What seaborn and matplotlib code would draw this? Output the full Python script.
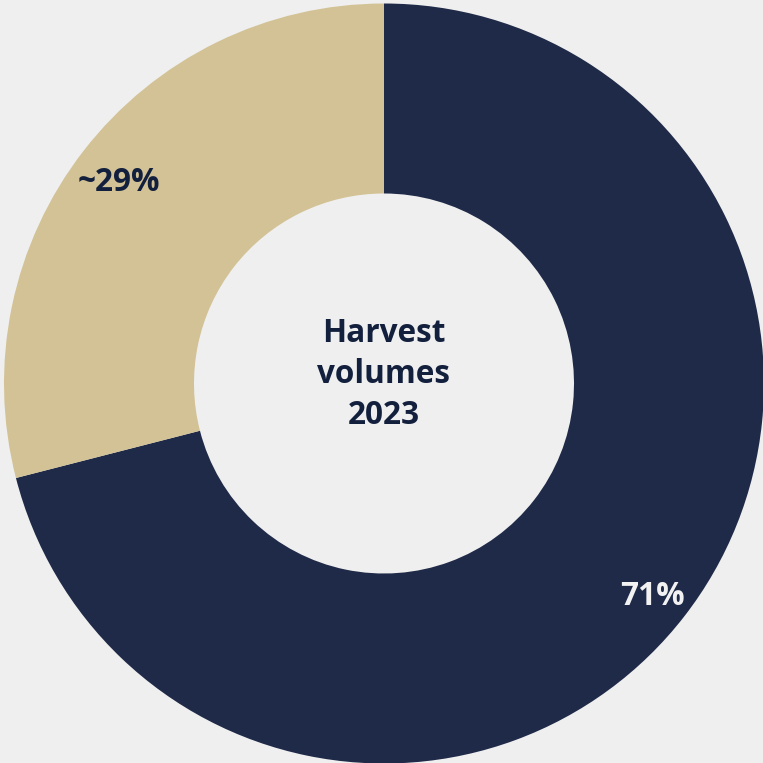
import matplotlib
matplotlib.use("Agg")
import matplotlib.pyplot as plt
import seaborn as sns
import numpy as np

# Harvest volume shares for 2023
categories = ["Main harvest", "Other"]
shares = [71, 29]
labels = ["71%", "~29%"]
colors = ["#1f2a48", "#d2c295"]
label_colors = ["#f2f2f2", "#13203d"]

sns.set_style("white")
plt.rcParams["font.family"] = ["Open Sans", "DejaVu Sans"]

bg = "#efefef"
fig = plt.figure(figsize=(7.63, 7.63), dpi=100, facecolor=bg)
ax = fig.add_axes([0, 0, 1, 1])
ax.set_facecolor(bg)

wedges, _ = ax.pie(
    shares,
    colors=colors,
    startangle=90,
    counterclock=False,
    radius=1.0,
    wedgeprops=dict(width=0.5, edgecolor="none", linewidth=0),
)

# value labels sit on each ring segment's middle angle
px = 1 / 380
for w, lab, col in zip(wedges, labels, label_colors):
    mid = np.deg2rad((w.theta1 + w.theta2) / 2)
    r = 0.889
    ax.text(r * np.cos(mid) + 2 * px, r * np.sin(mid) - 14.5 * px, lab,
            ha="center", va="baseline",
            fontsize=22.7, fontweight="bold", color=col)

ax.text(0, 9 * px, "Harvest\nvolumes\n2023", ha="center", va="center",
        fontsize=22.7, fontweight="bold", color="#13203d", linespacing=1.33)

# ring centre at (384, 383.5) px in a 763 px square
ax.set_xlim(-384 * px, 379 * px)
ax.set_ylim(-379.5 * px, 383.5 * px)
ax.set_aspect("equal")
ax.axis("off")

fig.savefig("out.png", dpi=100, facecolor=bg)
